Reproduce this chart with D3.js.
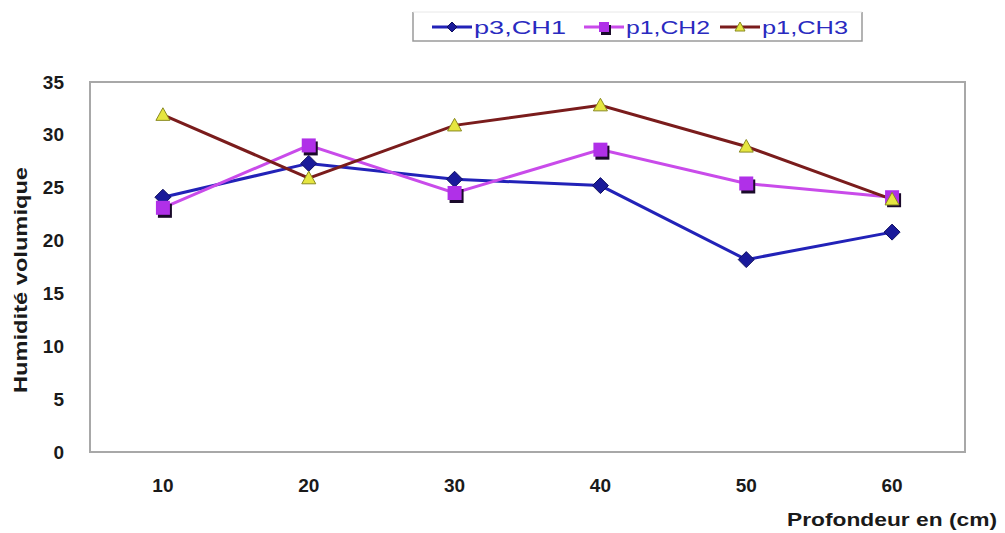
<!DOCTYPE html>
<html>
<head>
<meta charset="utf-8">
<script src="https://cdn.jsdelivr.net/npm/d3@7"></script>
<style>
  html, body { margin: 0; padding: 0; background: #ffffff; }
  svg { display: block; }
  text { font-family: "Liberation Sans", Arial, sans-serif; }
</style>
</head>
<body>
<svg id="chart" width="1005" height="533"></svg>
<script>
// Profondeurs (cm)
const depths = [10, 20, 30, 40, 50, 60];
// Humidité volumique par profil
const ch1 = [24.1, 27.3, 25.8, 25.2, 18.2, 20.8];
const ch2 = [23.1, 29.0, 24.5, 28.6, 25.4, 24.1];
const ch3 = [31.9, 25.9, 30.9, 32.8, 28.9, 23.9];
const seriesNames = ["p3,CH1", "p1,CH2", "p1,CH3"];
const yTicks = [0, 5, 10, 15, 20, 25, 30, 35];

const series = [
  { name: seriesNames[0], values: ch1, stroke: "#2222b8", marker: "diamond", fill: "#1a1a9a" },
  { name: seriesNames[1], values: ch2, stroke: "#c94bea", marker: "square", fill: "#b030e8" },
  { name: seriesNames[2], values: ch3, stroke: "#7a1c1c", marker: "triangle", fill: "#e6e640" }
];

const svg = d3.select("#chart");
const plot = { left: 90, top: 82, right: 965, bottom: 452 };

const x = d3.scaleBand().domain(depths).range([plot.left, plot.right]);
const y = d3.scaleLinear().domain([0, 35]).range([plot.bottom, plot.top]);

// Cadre de la zone de tracé
svg.append("rect")
  .attr("x", plot.left).attr("y", plot.top)
  .attr("width", plot.right - plot.left).attr("height", plot.bottom - plot.top)
  .attr("fill", "#ffffff").attr("stroke", "#a8a8a8").attr("stroke-width", 2);

// Axe Y
const yAxis = svg.append("g")
  .attr("transform", `translate(${plot.left},0)`)
  .call(d3.axisLeft(y).tickValues(yTicks).tickSize(0).tickPadding(26));
yAxis.select(".domain").remove();
yAxis.selectAll("text")
  .attr("font-size", 19).attr("font-weight", "bold").attr("fill", "#1a1a1a")
  .attr("font-family", "Liberation Sans, Arial, sans-serif");

// Axe X
const xAxis = svg.append("g")
  .attr("transform", `translate(0,${plot.bottom})`)
  .call(d3.axisBottom(x).tickSize(0).tickPadding(27));
xAxis.select(".domain").remove();
xAxis.selectAll("text")
  .attr("font-size", 19).attr("font-weight", "bold").attr("fill", "#1a1a1a")
  .attr("font-family", "Liberation Sans, Arial, sans-serif");

// Titres des axes
svg.append("text")
  .attr("transform", "translate(27,280) rotate(-90)")
  .attr("text-anchor", "middle")
  .attr("font-size", 18).attr("font-weight", "bold").attr("fill", "#1a1a1a")
  .attr("textLength", 226).attr("lengthAdjust", "spacingAndGlyphs")
  .text("Humidité volumique");

svg.append("text")
  .attr("x", 997).attr("y", 526)
  .attr("text-anchor", "end")
  .attr("font-size", 19).attr("font-weight", "bold").attr("fill", "#1a1a1a")
  .attr("textLength", 210).attr("lengthAdjust", "spacingAndGlyphs")
  .text("Profondeur en (cm)");

const cx = d => x(d) + x.bandwidth() / 2;

function drawMarker(g, type, px, py, fill, size) {
  if (type === "diamond") {
    g.append("path")
      .attr("d", `M${px},${py - size}L${px + size},${py}L${px},${py + size}L${px - size},${py}Z`)
      .attr("fill", fill).attr("stroke", "#101060").attr("stroke-width", 1);
  } else if (type === "square") {
    g.append("rect")
      .attr("x", px - size + 2).attr("y", py - size + 3)
      .attr("width", size * 2).attr("height", size * 2)
      .attr("fill", "#1a0a2a");
    g.append("rect")
      .attr("x", px - size).attr("y", py - size)
      .attr("width", size * 2).attr("height", size * 2)
      .attr("fill", fill);
  } else {
    g.append("path")
      .attr("d", `M${px},${py - size}L${px + size},${py + size * 0.8}L${px - size},${py + size * 0.8}Z`)
      .attr("fill", fill).attr("stroke", "#8a8a20").attr("stroke-width", 1);
  }
}

const line = d3.line().x((d, i) => cx(depths[i])).y(d => y(d));

series.forEach(s => {
  svg.append("path")
    .datum(s.values)
    .attr("d", line)
    .attr("fill", "none")
    .attr("stroke", s.stroke)
    .attr("stroke-width", 3);
});

series.forEach(s => {
  const g = svg.append("g");
  s.values.forEach((v, i) => {
    drawMarker(g, s.marker, cx(depths[i]), y(v), s.fill, s.marker === "diamond" ? 8 : 7);
  });
});

// Légende
const legend = svg.append("g");
legend.append("path")
  .attr("d", "M413,12V41H862V12")
  .attr("fill", "none").attr("stroke", "#9a9a9a").attr("stroke-width", 1.5);
legend.append("line")
  .attr("x1", 413).attr("x2", 862).attr("y1", 12).attr("y2", 12)
  .attr("stroke", "#e8e8e8").attr("stroke-width", 1);

const legendX = [432, 584, 720];
const legendTextW = [92, 84, 86];
series.forEach((s, i) => {
  const lx = legendX[i];
  const ly = 27;
  legend.append("line")
    .attr("x1", lx).attr("x2", lx + 40).attr("y1", ly).attr("y2", ly)
    .attr("stroke", s.stroke).attr("stroke-width", 3);
  drawMarker(legend, s.marker, lx + 20, ly, s.fill, 5);
  legend.append("text")
    .attr("x", lx + 42).attr("y", ly + 7)
    .attr("font-size", 18).attr("fill", "#2a2ac0")
    .attr("textLength", legendTextW[i]).attr("lengthAdjust", "spacingAndGlyphs")
    .text(s.name);
});
</script>
</body>
</html>
